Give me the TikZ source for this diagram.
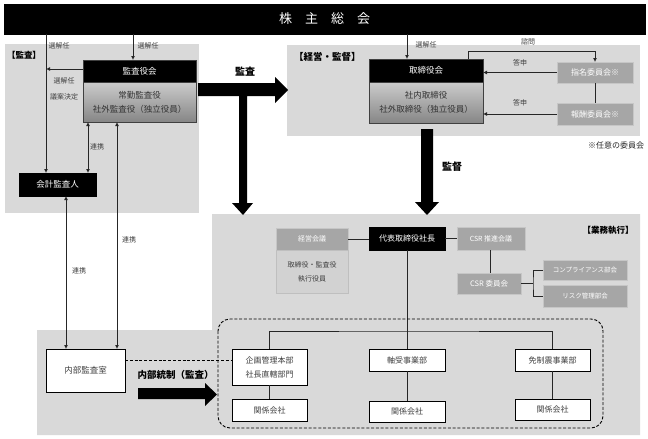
\documentclass[tikz,border=0pt]{standalone}
\usepackage{fontspec}
\setmainfont{Noto Sans CJK JP}
\usetikzlibrary{arrows.meta,calc}
\definecolor{bg}{HTML}{D9D9D9}
\definecolor{gboxc}{HTML}{A6A6A6}
\definecolor{lbl}{HTML}{404040}
\begin{document}
\begin{tikzpicture}[x=1pt,y=-1pt,
  every node/.style={inner sep=0pt, outer sep=0pt},
  tsev/.style={font=\fontsize{7}{9}\selectfont},
  tsm/.style={font=\fontsize{6.5}{9}\selectfont},
  tmid/.style={font=\fontsize{8.5}{14}\selectfont},
  tbold/.style={font=\bfseries\fontsize{10}{12}\selectfont},
  blkbox/.style={draw=black, fill=black, text=white, line width=0.6pt},
  graybox/.style={draw=gray!45, fill=gboxc, text=white, line width=0.6pt},
  whtbox/.style={draw=black, fill=white, text=black!75, line width=0.9pt},
  lightbox/.style={draw=gray!50, fill=gray!35, text=lbl, line width=0.6pt},
  gradbox/.style={draw=black!75, top color=gray!40, bottom color=gray!95, text=black!80, line width=0.8pt},
  conn/.style={line width=0.8pt, draw=black!85},
  arr/.style={conn, -{Latex[length=4pt,width=4pt]}},
  darr/.style={conn, {Latex[length=4pt,width=4pt]}-{Latex[length=4pt,width=4pt]}},
  lab/.style={tsev, text=lbl},
  thick arrow/.style={fill=black}
]
\useasboundingbox (0,0) rectangle (648,439);
\fill[white] (0,0) rectangle (648,439);

% background regions
\fill[bg] (5,44) rectangle (199,213);
\fill[bg] (287,45) rectangle (640,136);
\fill[bg] (212,214) -- (640,214) -- (640,435) -- (37,435) -- (37,330) -- (212,330) -- cycle;

\node[anchor=west, font=\bfseries\fontsize{8.5}{10}\selectfont] (lkansa) at (7,55) {【監査】};
\node[anchor=west, font=\bfseries\fontsize{9.5}{11}\selectfont] (lkeiei) at (294,57) {【経営・監督】};
\node[font=\bfseries\fontsize{8.5}{10}\selectfont] (lgyomu) at (608,230) {【業務執行】};

% shareholders
\node[blkbox, minimum width=641, minimum height=30, font=\fontsize{13}{15}\selectfont] (kabu) at (324.5,19) {株　主　総　会};

% audit
\node[blkbox, draw=black!75, minimum width=113, minimum height=22, tmid] (kansa) at (139.5,71) {監査役会};
\node[gradbox, minimum width=113, minimum height=40, tmid, align=center] (kansab) at (139.5,102) {常勤監査役\\社外監査役（独立役員）};
\node[blkbox, minimum width=77, minimum height=23, tmid] (kaikei) at (57.5,184.5) {会計監査人};
\node[whtbox, minimum width=79, minimum height=43, tmid] (naibu) at (85.5,370.5) {内部監査室};

% board
\node[blkbox, draw=black!75, minimum width=114, minimum height=23, tmid] (tori) at (426,70.5) {取締役会};
\node[gradbox, minimum width=114, minimum height=41, tmid, align=center] (torib) at (426,102.5) {社内取締役\\社外取締役（独立役員）};
\node[graybox, minimum width=76, minimum height=21, font=\fontsize{8}{10}\selectfont] (shimei) at (595,72.5) {指名委員会※};
\node[graybox, minimum width=76, minimum height=22, font=\fontsize{8}{10}\selectfont] (houshu) at (595,114) {報酬委員会※};
\node[font=\fontsize{8}{10}\selectfont, text=black!85] (nini) at (616,145) {※任意の委員会};

% execution
\node[graybox, minimum width=72, minimum height=22, tsev] (keieik) at (312,239) {経営会議};
\node[lightbox, minimum width=72, minimum height=43, align=center, font=\fontsize{7}{14}\selectfont] (keieib) at (312,271.5) {取締役・監査役\\執行役員};
\node[blkbox, minimum width=76, minimum height=23, font=\fontsize{8}{10}\selectfont] (daihyo) at (407,238.5) {代表取締役社長};
\node[graybox, minimum width=68, minimum height=23, tsev] (csrsui) at (491,238.5) {CSR 推進会議};
\node[graybox, minimum width=64, minimum height=21, font=\fontsize{7.5}{9}\selectfont] (csriin) at (489,283.5) {CSR 委員会};
\node[graybox, minimum width=84, minimum height=20, tsm] (comp) at (585,270) {コンプライアンス部会};
\node[graybox, minimum width=84, minimum height=22, tsm] (risk) at (585,296) {リスク管理部会};

\node[whtbox, minimum width=75, minimum height=36, align=center, font=\fontsize{8}{14}\selectfont] (kikaku) at (269.5,367) {企画管理本部\\社長直轄部門};
\node[whtbox, minimum width=76, minimum height=22, font=\fontsize{8}{10}\selectfont] (jiku) at (407,360) {軸受事業部};
\node[whtbox, minimum width=75, minimum height=22, font=\fontsize{8}{10}\selectfont] (men) at (552.5,360) {免制震事業部};
\node[whtbox, minimum width=75, minimum height=22, font=\fontsize{8}{10}\selectfont] (kan1) at (269.5,410) {関係会社};
\node[whtbox, minimum width=76, minimum height=21, font=\fontsize{8}{10}\selectfont] (kan2) at (407,411.5) {関係会社};
\node[whtbox, minimum width=75, minimum height=21, font=\fontsize{8}{10}\selectfont] (kan3) at (552.5,409.5) {関係会社};

% audit connectors
\coordinate (c1) at ([xshift=-6.5pt]kansa.north);
\draw[arr] (c1 |- kabu.south) -- (c1);
\node[lab] (l1) at (148,46) {選解任};
\coordinate (c2) at ([xshift=-11.5pt]kaikei.north);
\draw[arr] (c2 |- kabu.south) -- (c2);
\node[lab] (l2) at (59,46) {選解任};
\coordinate (c3) at ([yshift=2pt]kansa.west);
\draw[arr] (c3) -- (c3 -| c2);
\node[lab] (l3) at (64,81) {選解任};
\node[lab] (l4) at (64,96.5) {議案決定};
\coordinate (c4) at ([xshift=-51.5pt]kansab.south);
\draw[darr] (c4) -- (c4 |- kaikei.north);
\node[lab] (l5) at (97,147) {連携};
\coordinate (c5) at ([xshift=-22.5pt]kansab.south);
\draw[darr] (c5) -- (c5 |- naibu.north);
\node[lab] (l6) at (129,240) {連携};
\coordinate (c6) at ([xshift=8.5pt]kaikei.south);
\draw[darr] (c6) -- (c6 |- naibu.north);
\node[lab] (l7) at (79,271) {連携};

% board connectors
\coordinate (c7) at ([xshift=-19pt]tori.north);
\draw[arr] (c7 |- kabu.south) -- (c7);
\node[lab] (l8) at (426,45) {選解任};
\coordinate (c8) at ([xshift=42pt]tori.north);
\draw[arr] (c8) -- ++(0,-8) -| (shimei.north);
\node[lab] (l9) at (528,42) {諮問};
\draw[arr] (shimei.west) -- (shimei.west -| torib.east);
\draw[arr] (houshu.west) -- (houshu.west -| torib.east);
\draw[conn] (shimei.south) -- (houshu.north);
\node[lab] (l10) at (520,63) {答申};
\node[lab] (l11) at (520,103) {答申};

% execution connectors
\draw[conn] (keieik.east) -- (keieik.east -| daihyo.west);
\draw[conn] (daihyo.east) -- (daihyo.east -| csrsui.west);
\coordinate (c9) at ([xshift=-1pt]csrsui.south);
\draw[conn] (c9) -- (c9 |- csriin.north);
\coordinate (b1) at ([xshift=12pt]csriin.east);
\draw[conn] (csriin.east) -- (b1);
\draw[conn] (comp.west) -| (b1) |- (risk.west);
\draw[conn] (daihyo.south) -- (jiku.north);
\coordinate (hb) at (407,331);
\draw[conn] (kikaku.north) |- (hb) -| (men.north);
\draw[conn] (kikaku.south) -- (kan1.north);
\draw[conn] (jiku.south) -- (kan2.north);
\draw[conn] (men.south) -- (kan3.north);

% internal control
\draw[line width=0.9pt, dash pattern=on 3pt off 1.8pt, rounded corners=12pt] (218,319) rectangle (603,428);
\draw[line width=0.9pt, dash pattern=on 3pt off 1.8pt] (naibu.east |- jiku.west) -- (kikaku.west |- jiku.west);

% thick arrows
\fill[thick arrow] (198,83) -- (275,83) -- (275,77) -- (288,90) -- (275,103) -- (275,96) -- (247,96) -- (247,203) -- (253,203) -- (243,215) -- (232,203) -- (239,203) -- (239,96) -- (198,96) -- cycle;
\node[tbold] (lkan) at (245,72) {監査};
\fill[thick arrow] (421,129) -- (433,129) -- (433,202) -- (439,202) -- (427,215) -- (415,202) -- (421,202) -- cycle;
\node[tbold] (lkantoku) at (452,167) {監督};
\fill[thick arrow] (138,388) -- (205,388) -- (205,383) -- (217,394.5) -- (205,406) -- (205,399) -- (138,399) -- cycle;
\node[font=\bfseries\fontsize{9.5}{11}\selectfont] (lnaibu) at (175.5,375) {内部統制（監査）};
\end{tikzpicture}
\end{document}
